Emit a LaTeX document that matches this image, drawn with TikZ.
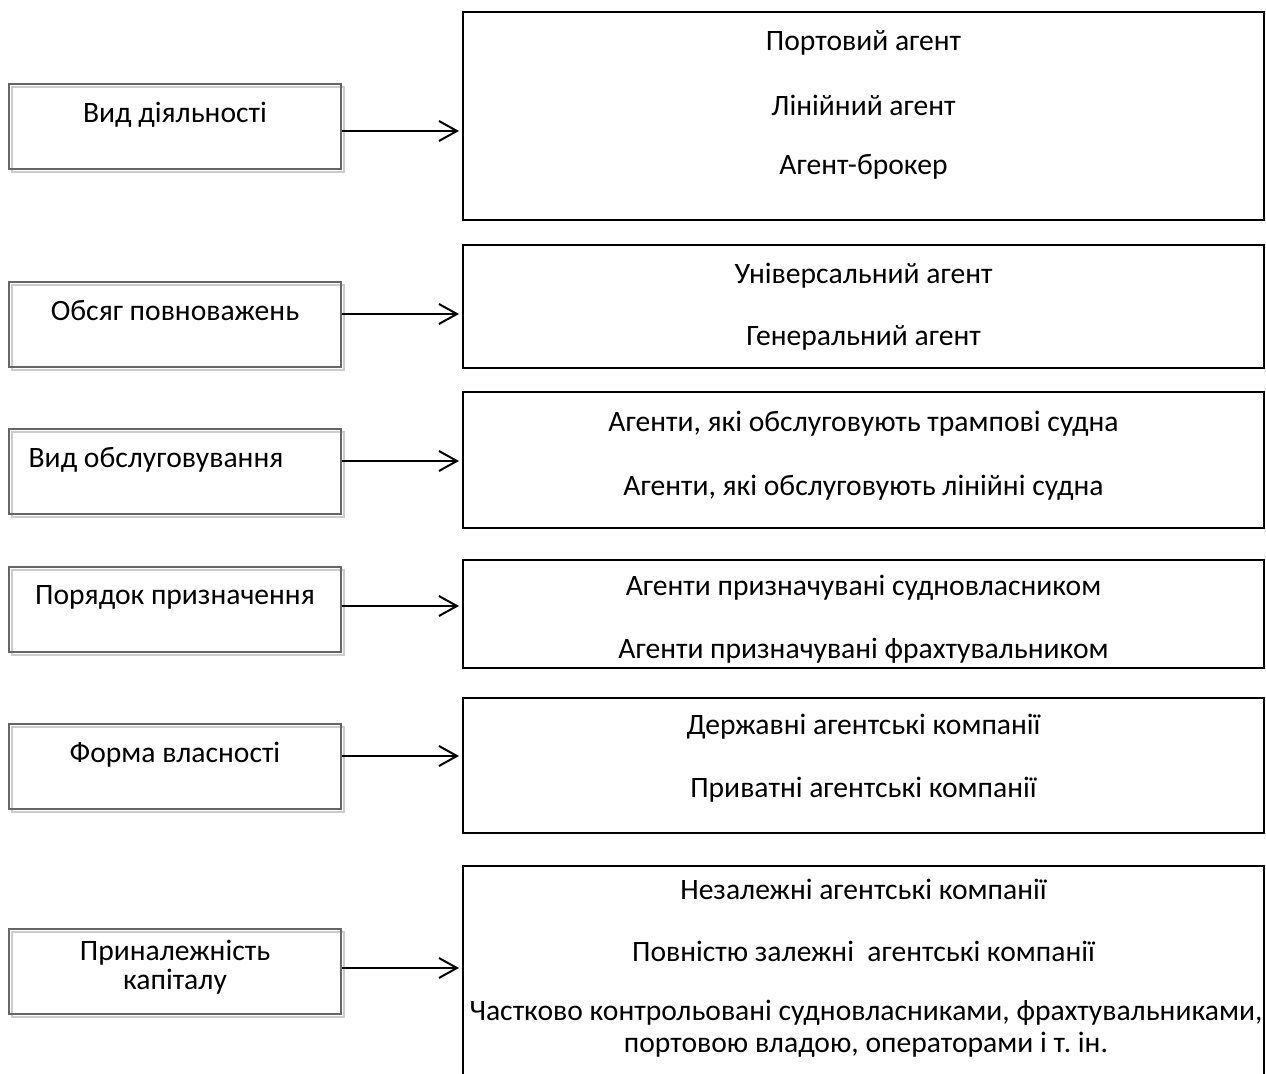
\documentclass[tikz,border=0pt]{standalone}
\usepackage{fontspec}
\setmainfont{Carlito}
\usetikzlibrary{arrows.meta,positioning}
\tikzset{
  kind/.style={draw=black!60,line width=1pt,minimum width=166pt,minimum height=42.5pt,inner sep=0pt,
    preaction={draw=black!20,line width=1pt,transform canvas={xshift=1.5pt,yshift=-1.5pt}}},
  group/.style={draw=black,line width=1pt,inner sep=0pt,minimum width=400.5pt},
  arr/.style={-{Straight Barb[length=9pt,width=10pt]},line width=1pt,shorten >=1.5pt},
}
\frenchspacing
\begin{document}
\begin{tikzpicture}[x=0.5pt,y=-0.5pt,font=\fontsize{14.8}{17}\selectfont]
\clip (0,0) rectangle (1266,1074);
\node[kind] (k1) at (175,126.5) {};
\node[kind] (k2) at (175,325) {};
\node[kind] (k3) at (175,471.5) {};
\node[kind] (k4) at (175,610) {};
\node[kind] (k5) at (175,767) {};
\node[kind] (k6) at (175,972) {};
\node (t1) at (175,115) {Вид діяльності};
\node (t2) at (175,311) {Обсяг повноважень};
\node (t3) at (156,460) {Вид обслуговування};
\node (t4) at (175,597) {Порядок призначення};
\node (t5) at (175,755) {Форма власності};
\node[align=center,font=\fontsize{14.8}{14.5}\selectfont] (t6) at (175,967) {Приналежність\\капіталу};
\node[group,minimum height=104pt] (g1) at (863.5,116) {};
\node[group,minimum height=61.5pt] (g2) at (863.5,306.5) {};
\node[group,minimum height=68pt] (g3) at (863.5,460) {};
\node[group,minimum height=54pt] (g4) at (863.5,614) {};
\node[group,minimum height=67.5pt] (g5) at (863.5,765.5) {};
\node[group,minimum height=117pt] (g6) at (863.5,983) {};
\node (a1) at (863.5,43) {Портовий агент};
\node (a2) at (863.5,105) {Лінійний агент};
\node (a3) at (863.5,167) {Агент-брокер};
\node (b1) at (863.5,276) {Універсальний агент};
\node (b2) at (863.5,338) {Генеральний агент};
\node (c1) at (863.5,424) {Агенти, які обслуговують трампові судна};
\node (c2) at (863.5,488) {Агенти, які обслуговують лінійні судна};
\begin{scope}
\clip (g4.north west) rectangle (g4.south east);
\node (d1) at (863.5,588) {Агенти призначувані судновласником};
\node (d2) at (863.5,651) {Агенти призначувані фрахтувальником};
\end{scope}
\node (e1) at (863.5,727) {Державні агентські компанії};
\node (e2) at (863.5,790) {Приватні агентські компанії};
\node (f1) at (863.5,889) {Незалежні агентські компанії};
\node (f2) at (863.5,951) {Повністю залежні\ \ агентські компанії};
\node (f3) at (866,1013) {Частково контрольовані судновласниками, фрахтувальниками,};
\node (f4) at (866,1045) {портовою владою, операторами і т. ін.};
\foreach \i/\y in {1/131,2/314,3/461,4/606,5/756,6/968}
  \draw[arr] (k\i.east |- 0,\y) -- (g\i.west |- 0,\y);
\end{tikzpicture}
\end{document}
